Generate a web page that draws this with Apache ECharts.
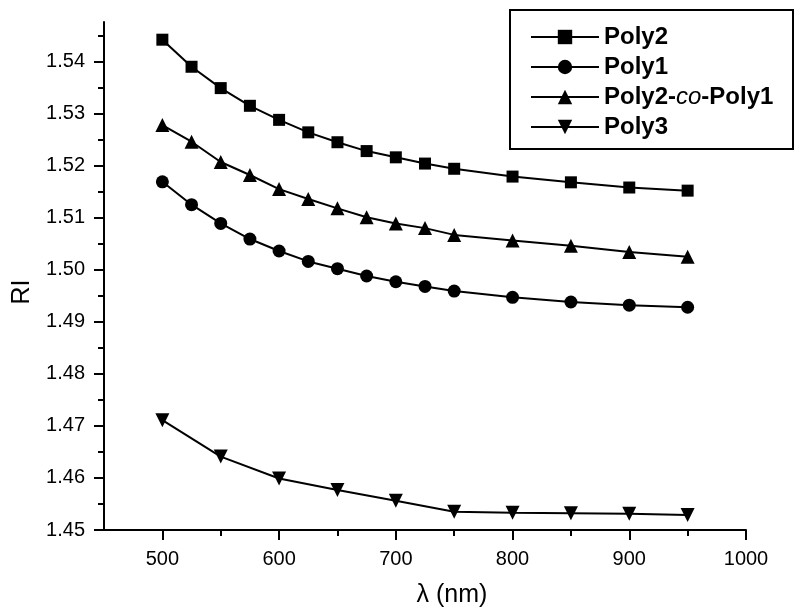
<!DOCTYPE html>
<html>
<head>
<meta charset="utf-8">
<script src="https://cdn.jsdelivr.net/npm/echarts@6/dist/echarts.min.js"></script>
<style>
  html, body { margin: 0; padding: 0; background: #fff; }
  #charts { width: 795px; height: 607px; }
</style>
</head>
<body>
<div id="charts"></div>
<script>
// wavelengths (nm)
var lambdaFull = [500, 525, 550, 575, 600, 625, 650, 675, 700, 725, 750, 800, 850, 900, 950];
var lambdaPoly3 = [500, 550, 600, 650, 700, 750, 800, 850, 900, 950];

// refractive index
var poly2 = [1.5442, 1.5390, 1.5349, 1.5315, 1.5288, 1.5264, 1.5245, 1.5228, 1.5216, 1.5204, 1.5194, 1.5179, 1.5168, 1.5158, 1.5152];
var poly1 = [1.5169, 1.5125, 1.5089, 1.5059, 1.5036, 1.5016, 1.5002, 1.4988, 1.4977, 1.4968, 1.4959, 1.4947, 1.4938, 1.4932, 1.4928];
var copoly = [1.5278, 1.5246, 1.5207, 1.5182, 1.5155, 1.5136, 1.5118, 1.5101, 1.5089, 1.5080, 1.5067, 1.5056, 1.5046, 1.5034, 1.5025];
var poly3 = [1.4711, 1.4641, 1.4599, 1.4577, 1.4556, 1.4535, 1.4533, 1.4532, 1.4531, 1.4529];

// ticks
var xMajor = [500, 600, 700, 800, 900, 1000];
var xMinor = [550, 650, 750, 850, 950];
var yMajor = [1.45, 1.46, 1.47, 1.48, 1.49, 1.50, 1.51, 1.52, 1.53, 1.54];
var yMinor = [1.455, 1.465, 1.475, 1.485, 1.495, 1.505, 1.515, 1.525, 1.535, 1.545];

var FONT = 'Liberation Sans, Arial, Helvetica, sans-serif';

function pairs(xs, ys) {
	var out = [];
	for (var i = 0; i < xs.length; i++) out.push([xs[i], ys[i]]);
	return out;
}

function lineSeries(name, xs, ys, symbol, size, rotate) {
	return {
		name: name,
		type: 'line',
		data: pairs(xs, ys),
		symbol: symbol,
		symbolSize: size,
		symbolRotate: rotate || 0,
		showAllSymbol: true,
		xAxisIndex: 0,
		yAxisIndex: 0,
		lineStyle: { color: '#000', width: 2 },
		itemStyle: { color: '#000', borderWidth: 0 },
		emphasis: { disabled: true },
		animation: false
	};
}

var option = {
	backgroundColor: '#fff',
	animation: false,
	grid: { left: 104, right: 49, top: 22, bottom: 77, containLabel: false, outerBoundsMode: 'none' },
	legend: {
		orient: 'vertical',
		left: 530,
		top: 25,
		padding: 0,
		itemWidth: 68,
		itemHeight: 18,
		itemGap: 6,
		data: ['Poly2', 'Poly1', 'Poly2-co-Poly1', 'Poly3'],
		formatter: function(name) {
			if (name === 'Poly2-co-Poly1') return 'Poly2-{i|co}-Poly1';
			return name;
		},
		textStyle: {
			color: '#000',
			fontFamily: FONT,
			fontWeight: 'bold',
			fontSize: 24,
			rich: {
				i: { fontFamily: FONT, fontStyle: 'italic', fontWeight: 'normal', fontSize: 24, color: '#000' }
			}
		},
		selectedMode: false
	},
	graphic: [{
		type: 'rect',
		shape: { x: 510, y: 10, width: 283, height: 139 },
		style: { fill: 'none', stroke: '#000', lineWidth: 2 },
		z: 100
	}],
	xAxis: [{
		type: 'value',
		min: 450,
		max: 1000,
		name: 'λ (nm)',
		nameLocation: 'middle',
		nameGap: 53,
		nameTextStyle: { color: '#000', fontFamily: FONT, fontSize: 25, padding: [0, 0, 0, 54] },
		axisLine: { show: true, lineStyle: { color: '#000', width: 2 } },
		axisTick: { show: true, inside: false, length: 10, customValues: xMajor, lineStyle: { color: '#000', width: 2 } },
		axisLabel: {
			customValues: xMajor, margin: 19, color: '#000', fontFamily: FONT, fontSize: 20,
			formatter: function(v) { return String(v); }
		},
		splitLine: { show: false }
	}, {
		type: 'value',
		min: 450,
		max: 1000,
		position: 'bottom',
		axisLine: { show: false },
		axisTick: { show: true, inside: false, length: 6, customValues: xMinor, lineStyle: { color: '#000', width: 2 } },
		axisLabel: { show: false },
		splitLine: { show: false }
	}],
	yAxis: [{
		type: 'value',
		min: 1.45,
		max: 1.5476,
		name: 'RI',
		nameLocation: 'middle',
		nameGap: 69,
		nameTextStyle: { color: '#000', fontFamily: FONT, fontSize: 25, padding: [0, 32, 0, 0] },
		axisLine: { show: true, lineStyle: { color: '#000', width: 2 } },
		axisTick: { show: true, inside: false, length: 10, customValues: yMajor, lineStyle: { color: '#000', width: 2 } },
		axisLabel: {
			customValues: yMajor, margin: 19, color: '#000', fontFamily: FONT, fontSize: 20,
			formatter: function(v) { return v.toFixed(2); }
		},
		splitLine: { show: false }
	}, {
		type: 'value',
		min: 1.45,
		max: 1.5476,
		position: 'left',
		axisLine: { show: false },
		axisTick: { show: true, inside: false, length: 6, customValues: yMinor, lineStyle: { color: '#000', width: 2 } },
		axisLabel: { show: false },
		splitLine: { show: false }
	}],
	series: [
		lineSeries('Poly2', lambdaFull, poly2, 'rect', 12),
		lineSeries('Poly1', lambdaFull, poly1, 'circle', 13),
		lineSeries('Poly2-co-Poly1', lambdaFull, copoly, 'triangle', 14),
		lineSeries('Poly3', lambdaPoly3, poly3, 'triangle', 14, 180)
	]
};

var myChart = echarts.init(document.getElementById('charts'), null, { renderer: 'canvas' });
myChart.setOption(option);
</script>
</body>
</html>
